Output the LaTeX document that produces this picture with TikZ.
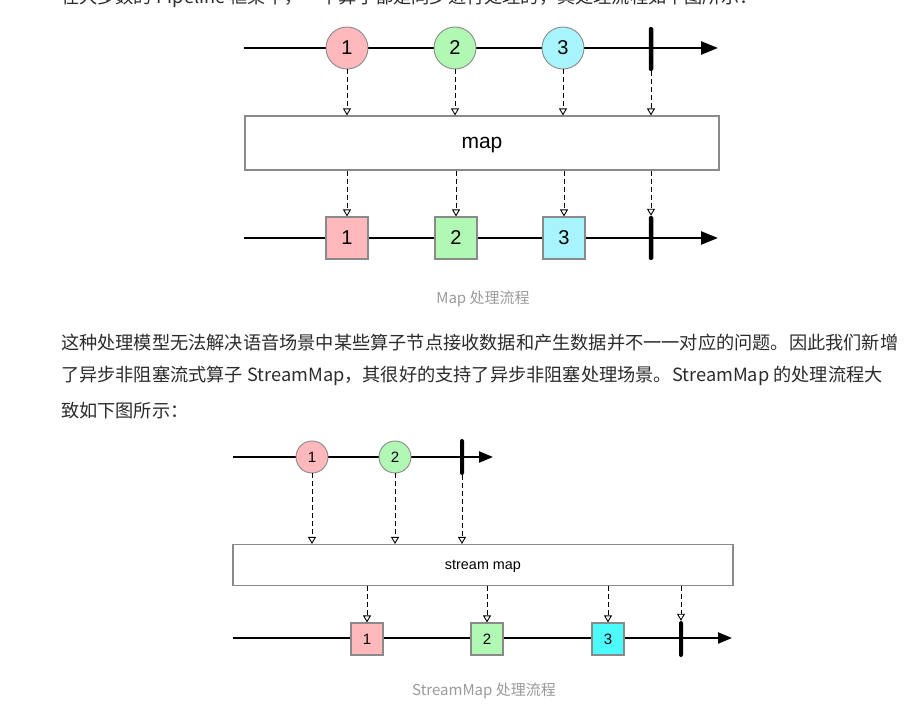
\documentclass[tikz,border=0pt]{standalone}
\usepackage{fontspec}
\setmainfont{Liberation Sans}
\newfontfamily\cjkfont{Noto Sans CJK SC}
\usetikzlibrary{arrows.meta,positioning}
\definecolor{marblered}{HTML}{FFB8BC}
\definecolor{marblegreen}{HTML}{B0F8B4}
\definecolor{marblecyan}{HTML}{A8F4FC}
\definecolor{brightcyan}{HTML}{4CFCFC}
\definecolor{edgegray}{HTML}{8A8A8A}
\definecolor{captiongray}{HTML}{9A9A9A}
\definecolor{bodytext}{HTML}{2B2B2B}

\begin{document}
\begin{tikzpicture}[
  x=1pt, y=-1pt,
  marble/.style={circle, draw=edgegray, line width=0.9pt, minimum size=42pt, inner sep=0pt, font=\fontsize{20}{20}\selectfont},
  smallmarble/.style={marble, minimum size=32pt, font=\fontsize{15}{15}\selectfont},
  item/.style={rectangle, draw=edgegray, line width=1.1pt, minimum size=42pt, inner sep=0pt, font=\fontsize{20}{20}\selectfont},
  smallitem/.style={item, minimum size=32pt, font=\fontsize{15}{15}\selectfont},
  opbox/.style={rectangle, draw=edgegray, line width=1.1pt, fill=white, inner sep=0pt, text depth=0pt},
  stopbar/.style={rectangle, fill=black, rounded corners=2pt, minimum width=4.5pt, minimum height=44pt, inner sep=0pt},
  timeline/.style={line width=2.5pt, -{Triangle[length=17pt, width=13pt]}},
  flow/.style={line width=0.9pt, dash pattern=on 5pt off 3pt, -{Triangle[open, length=7pt, width=8pt, line width=0.9pt]}},
  bodyline/.style={anchor=west, inner sep=0pt, text=bodytext, font=\cjkfont\fontsize{18.2}{20}\selectfont},
  caption/.style={inner sep=0pt, text=captiongray, font=\cjkfont\fontsize{15}{15}\selectfont}
]
\useasboundingbox (0,0) rectangle (906,714);

% cut-off sentence above the first picture
\node[bodyline, anchor=base west] (p0) at (61,4) {在大多数的 Pipeline 框架中，一个算子都是同步进行处理的，其处理流程如下图所示：};

% Map: input, operator, output
\coordinate (in1s) at (244,48);
\coordinate (in1e) at (718,48);
\draw[timeline] (in1s) -- (in1e);
\node[marble, fill=marblered] (a1) at (347,48) {1};
\node[marble, fill=marblegreen] (a2) at (455,48) {2};
\node[marble, fill=marblecyan] (a3) at (563,48) {3};
\node[stopbar] (aend) at (651,49) {};

\node[opbox, minimum width=474pt, minimum height=54pt, font=\fontsize{21}{21}\selectfont] (mapbox) at (482,143) {map};

\coordinate (out1s) at (244,238);
\coordinate (out1e) at (718,238);
\draw[timeline] (out1s) -- (out1e);
\node[item, fill=marblered] (b1) at (347,238) {1};
\node[item, fill=marblegreen] (b2) at (456,238) {2};
\node[item, fill=marblecyan] (b3) at (564,238) {3};
\node[stopbar] (bend) at (651,238) {};

\foreach \n in {a1,a2,a3,aend}
  \draw[flow] (\n.south) -- (\n.south |- mapbox.north);
\foreach \n in {b1,b2,b3,bend}
  \draw[flow] (\n.north |- mapbox.south) -- (\n.north);

\node[caption] (cap1) at (483,299) {Map 处理流程};

% text between the two pictures
\node[bodyline] (p1) at (61,343) {这种处理模型无法解决语音场景中某些算子节点接收数据和产生数据并不一一对应的问题。因此我们新增};
\node[bodyline] (p2) at (61,376) {了异步非阻塞流式算子 StreamMap，其很好的支持了异步非阻塞处理场景。StreamMap 的处理流程大};
\node[bodyline] (p3) at (61,411) {致如下图所示：};

% StreamMap: input, operator, output
\coordinate (in2s) at (233,457);
\coordinate (in2e) at (493,457);
\draw[timeline, line width=2.2pt, -{Triangle[length=14pt, width=11pt]}] (in2s) -- (in2e);
\node[smallmarble, fill=marblered] (c1) at (312,457) {1};
\node[smallmarble, fill=marblegreen] (c2) at (395,457) {2};
\node[stopbar, minimum width=4pt, minimum height=36pt] (cend) at (462,457) {};

\node[opbox, minimum width=500pt, minimum height=41pt, font=\fontsize{14.4}{14.4}\selectfont] (smapbox) at (483,565) {stream map};

\coordinate (out2s) at (233,638);
\coordinate (out2e) at (732,638);
\draw[timeline, line width=2.2pt, -{Triangle[length=14pt, width=11pt]}] (out2s) -- (out2e);
\node[smallitem, fill=marblered] (d1) at (367,639) {1};
\node[smallitem, fill=marblegreen] (d2) at (487,639) {2};
\node[smallitem, fill=brightcyan] (d3) at (608,639) {3};
\node[stopbar, minimum width=4pt, minimum height=36pt] (dend) at (681,639) {};

\foreach \n in {c1,c2,cend}
  \draw[flow] (\n.south) -- (\n.south |- smapbox.north);
\foreach \n in {d1,d2,d3,dend}
  \draw[flow] (\n.north |- smapbox.south) -- (\n.north);

\node[caption] (cap2) at (484,691) {StreamMap 处理流程};
\end{tikzpicture}
\end{document}
